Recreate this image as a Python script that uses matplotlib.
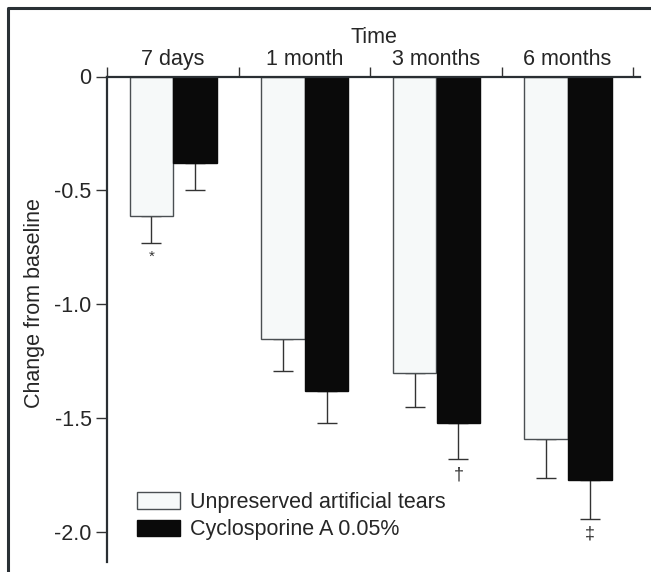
import matplotlib.pyplot as plt
import numpy as np
from matplotlib.lines import Line2D

plt.rcParams['font.family'] = ['Liberation Sans', 'DejaVu Sans']

# Data
TIMEPOINTS = ['7 days', '1 month', '3 months', '6 months']
TEARS_MEAN = [-0.61, -1.15, -1.30, -1.59]
TEARS_ERR = [0.12, 0.14, 0.15, 0.17]
CSA_MEAN = [-0.38, -1.38, -1.52, -1.77]
CSA_ERR = [0.12, 0.14, 0.16, 0.17]
TEARS_MARK = ['*', '', '', '']
CSA_MARK = ['', '', '\u2020', '\u2021']
Y_TICKS = [0, -0.5, -1.0, -1.5, -2.0]
Y_LABELS = ['0', '-0.5', '-1.0', '-1.5', '-2.0']

W, H = 651, 572
FS = 15.5
TXT = '#262626'
fig = plt.figure(figsize=(W / 100, H / 100), dpi=100)
ax = fig.add_axes([107 / W, 1 - 562 / H, (640 - 107) / W, (562 - 76.5) / H])

x = np.arange(len(TIMEPOINTS))
width = 0.33
edge = '#4a4f52'

ax.bar(x + 0.337, TEARS_MEAN, width, color='#f6f9f9', edgecolor=edge, linewidth=1.0,
       label='Unpreserved artificial tears', zorder=2)
ax.bar(x + 0.67, CSA_MEAN, width, color='#0a0a0a', edgecolor='#0a0a0a', linewidth=1.0,
       label='Cyclosporine A 0.05%', zorder=2)

ax.errorbar(x + 0.337, TEARS_MEAN, yerr=[TEARS_ERR, np.zeros(4)], fmt='none',
            ecolor='#333333', elinewidth=1.0, capsize=7, capthick=1.0, zorder=1)
ax.errorbar(x + 0.67, CSA_MEAN, yerr=[CSA_ERR, np.zeros(4)], fmt='none',
            ecolor='#333333', elinewidth=1.0, capsize=7, capthick=1.0, zorder=1)

for xs, means, errs, marks in [(x + 0.337, TEARS_MEAN, TEARS_ERR, TEARS_MARK),
                               (x + 0.67, CSA_MEAN, CSA_ERR, CSA_MARK)]:
    for xi, m, e, mk in zip(xs, means, errs, marks):
        if mk:
            ax.annotate(mk, (xi, m - e), xytext=(0, -5), textcoords='offset points',
                        ha='center', va='top', fontsize=13 if mk != '*' else 11,
                        color='#333333')

ax.set_xlim(0, 4.05)
ax.set_ylim(-2.13, 0)

ax.spines['right'].set_visible(False)
ax.spines['bottom'].set_visible(False)
for s in ['left', 'top']:
    ax.spines[s].set_color('#2a2f33')
    ax.spines[s].set_linewidth(1.6)

ax.xaxis.set_ticks_position('top')
ax.xaxis.set_label_position('top')
ax.set_xticks(np.arange(5))
ax.set_xticklabels([])
ax.set_xticks(x + 0.5, minor=True)
ax.set_xticklabels(TIMEPOINTS, minor=True)
ax.tick_params(axis='x', which='major', direction='out', length=7, width=1, color='#333333')
ax.tick_params(axis='x', which='minor', length=0, pad=5, labelsize=FS, labelcolor=TXT)
ax.set_xlabel('Time', fontsize=FS, color=TXT, labelpad=4)

ax.set_yticks(Y_TICKS)
ax.set_yticklabels(Y_LABELS)
ax.tick_params(axis='y', direction='out', length=8, width=1, color='#333333',
               labelsize=FS, labelcolor=TXT, pad=3)
ax.set_ylabel('Change from baseline', fontsize=FS, color=TXT)
ax.yaxis.set_label_coords(-0.117, 0.533)

leg = ax.legend(loc='upper left', bbox_to_anchor=(137 / W, 1 - 492 / H),
                bbox_transform=fig.transFigure, frameon=False, fontsize=FS,
                handlelength=2.0, handleheight=0.8, handletextpad=0.45,
                labelspacing=0.3, borderpad=0, borderaxespad=0)
for t in leg.get_texts():
    t.set_color(TXT)

# figure frame (top and left only, as in the scan)
fig.add_artist(Line2D([8 / W, 8 / W, 1.0], [0.0, 1 - 8 / H, 1 - 8 / H],
                      transform=fig.transFigure, color='#2a3035', linewidth=2.2))

fig.savefig('out.png', dpi=100)
